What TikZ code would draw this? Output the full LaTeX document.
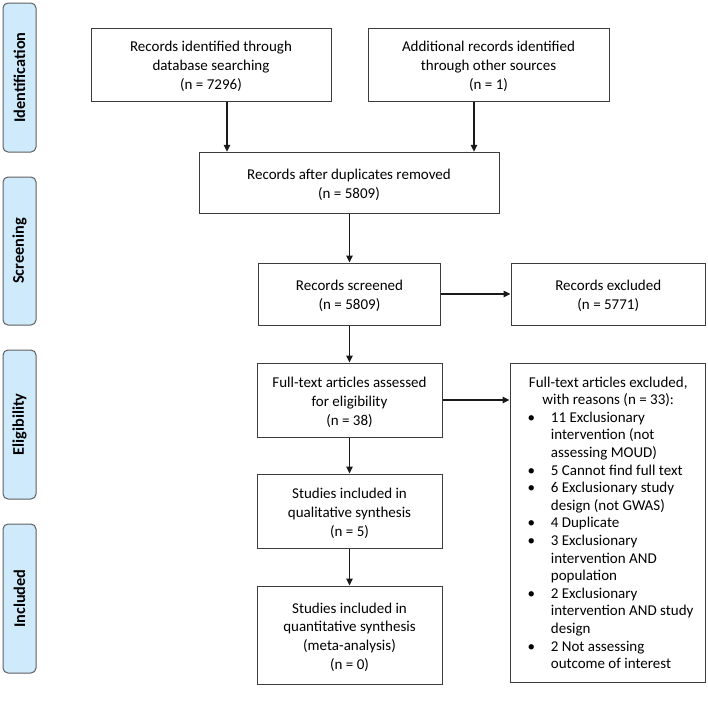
\documentclass[tikz,border=0pt]{standalone}
\usepackage{fontspec}
\setmainfont{Carlito}
\usetikzlibrary{arrows.meta,calc}
\definecolor{sideblue}{RGB}{206,234,251}
\definecolor{sidegray}{RGB}{95,95,95}
\definecolor{boxgray}{RGB}{60,60,60}
\newcommand{\boxtext}[1]{\raisebox{-2.5pt}[\height][\depth]{\begin{tabular}{@{}c@{}}#1\end{tabular}}}
\begin{document}
\begin{tikzpicture}[x=1pt,y=-1pt,
  box/.style={draw=boxgray, line width=1pt, rectangle, inner sep=0pt, align=center,
    font=\fontsize{15}{18.8}\selectfont},
  side/.style={draw=sidegray, fill=sideblue, line width=1pt, rounded corners=5pt, rotate=90,
    inner sep=0pt, minimum width=149pt, minimum height=33pt,
    font=\fontsize{16.3}{19}\selectfont\bfseries},
  arr/.style={line width=1.2pt, draw=black!90, -{Triangle[length=7pt,width=6.5pt]}},
  listtext/.style={anchor=base west, inner sep=0pt, font=\fontsize{15}{17.6}\selectfont}
]
\path[use as bounding box] (0,0) rectangle (708,704);

% phase labels
\node[side] (s1) at (19.5,77.5) {Identification};
\node[side, minimum width=148pt] (s2) at (19.5,251) {Screening};
\node[side] (s3) at (19.5,424.5) {Eligibility};
\node[side] (s4) at (19.5,598.5) {Included};

% boxes
\node[box, minimum width=240pt, minimum height=73pt] (db) at (211,64.5)
  {\boxtext{Records identified through\\database searching\\(n = 7296)}};
\node[box, minimum width=241pt, minimum height=73pt] (other) at (488.5,64.5)
  {\boxtext{Additional records identified\\through other sources\\(n = 1)}};
\node[box, minimum width=300pt, minimum height=61.5pt] (dup) at (349,183)
  {\boxtext{Records after duplicates removed\\(n = 5809)}};
\node[box, minimum width=182pt, minimum height=62pt] (scr) at (349.5,294)
  {\boxtext{Records screened\\(n = 5809)}};
\node[box, minimum width=194.5pt, minimum height=62pt] (exc) at (608.25,294)
  {\boxtext{Records excluded\\(n = 5771)}};
\node[box, minimum width=185pt, minimum height=74pt] (ft) at (349.5,400)
  {\boxtext{Full-text articles assessed\\for eligibility\\(n = 38)}};
\node[box, minimum width=185pt, minimum height=74pt] (qual) at (349.5,511)
  {\boxtext{Studies included in\\qualitative synthesis\\(n = 5)}};
\node[box, minimum width=185pt, minimum height=98pt] (quant) at (349.5,635)
  {\boxtext{Studies included in\\quantitative synthesis\\(meta-analysis)\\(n = 0)}};
\node[box, minimum width=195.5pt, minimum height=319pt] (ftx) at (607.75,522.5) {};
\node[listtext] (ftxt) at (527.5,387) {%
  \renewcommand{\arraystretch}{1}%
  \begin{tabular}[t]{@{}l@{}l@{}}
  \multicolumn{2}{@{}l@{}}{\makebox[161pt][c]{Full-text articles excluded,}}\\
  \multicolumn{2}{@{}l@{}}{\makebox[161pt][c]{with reasons (n = 33):}}\\
  \makebox[23.2pt][l]{\textbullet} & 11 Exclusionary\\
   & intervention (not\\
   & assessing MOUD)\\
  \makebox[23.2pt][l]{\textbullet} & 5 Cannot find full text\\
  \makebox[23.2pt][l]{\textbullet} & 6 Exclusionary study\\
   & design (not GWAS)\\
  \makebox[23.2pt][l]{\textbullet} & 4 Duplicate\\
  \makebox[23.2pt][l]{\textbullet} & 3 Exclusionary\\
   & intervention AND\\
   & population\\
  \makebox[23.2pt][l]{\textbullet} & 2 Exclusionary\\
   & intervention AND study\\
   & design\\
  \makebox[23.2pt][l]{\textbullet} & 2 Not assessing\\
   & outcome of interest
  \end{tabular}};

% connectors
\draw[arr] ([xshift=16pt]db.south) -- ([xshift=16pt]db.south |- dup.north);
\draw[arr] ([xshift=-14.5pt]other.south) -- ([xshift=-14.5pt]other.south |- dup.north);
\draw[arr] (dup.south -| scr.north) -- (scr.north);
\draw[arr] (scr.east) -- (exc.west);
\draw[arr] (scr.south) -- (ft.north);
\draw[arr] (ft.east) -- (ft.east -| ftx.west);
\draw[arr] (ft.south) -- (qual.north);
\draw[arr] (qual.south) -- (quant.north);
\end{tikzpicture}
\end{document}
